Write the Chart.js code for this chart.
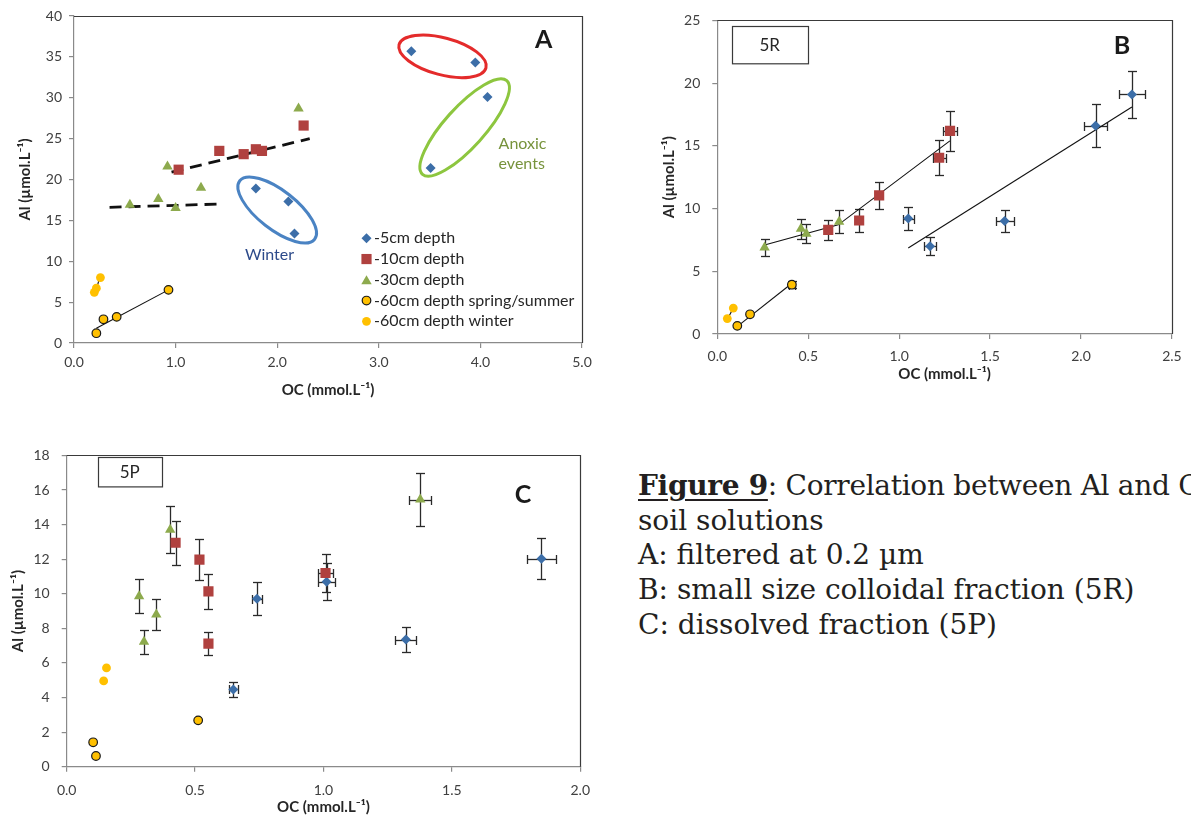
<!DOCTYPE html>
<html><head><meta charset="utf-8">
<script src="https://cdn.jsdelivr.net/npm/chart.js@4.4.1/dist/chart.umd.min.js"></script>
<style>
html,body{margin:0;padding:0;background:#fff;}
body{width:1191px;height:815px;overflow:hidden;position:relative;}
canvas{position:absolute;}
#cap{position:absolute;left:638px;top:469px;font-family:"DejaVu Serif",serif;font-size:28px;line-height:34.7px;color:#231f20;white-space:nowrap;}
#cap b{text-decoration:underline;text-decoration-thickness:2px;text-underline-offset:4px;}
#cap .l1{letter-spacing:-0.3px;}
</style></head><body>
<canvas id="cA" width="600" height="400" style="left:0;top:0"></canvas>
<canvas id="cB" width="551" height="385" style="left:640px;top:0"></canvas>
<canvas id="cC" width="600" height="380" style="left:0;top:435px"></canvas>
<div id="cap">
<div class="l1"><b>Figure 9</b>: Correlation between Al and OC in</div>
<div>soil solutions</div>
<div>A: filtered at 0.2 µm</div>
<div>B: small size colloidal fraction (5R)</div>
<div>C: dissolved fraction (5P)</div>
</div>
<script>
Chart.defaults.font.family = "Lato, 'Open Sans', sans-serif";
Chart.defaults.color = '#404040';

const SERIES = ['-5cm depth', '-10cm depth', '-30cm depth', '-60cm depth spring/summer', '-60cm depth winter'];
const X_TITLE = 'OC (mmol.L\u207B\u00B9)';
const Y_TITLE = 'Al (\u00B5mol.L\u207B\u00B9)';

// ---------- Panel A : filtered at 0.2 µm ----------
const A_XTICKS = [0, 1, 2, 3, 4, 5];
const A_YTICKS = [0, 5, 10, 15, 20, 25, 30, 35, 40];
const A_x5  = [3.32, 3.95, 4.07, 3.51, 1.79, 2.11, 2.17];
const A_y5  = [35.7, 34.3, 30.1, 21.4, 18.9, 17.3, 13.4];
const A_x10 = [1.03, 1.43, 1.67, 1.79, 1.85, 2.26];
const A_y10 = [21.2, 23.5, 23.1, 23.7, 23.5, 26.6];
const A_x30 = [0.92, 2.21, 1.25, 0.83, 0.55, 1.00];
const A_y30 = [21.6, 28.7, 19.0, 17.6, 16.9, 16.5];
const A_x60s = [0.22, 0.29, 0.42, 0.93];
const A_y60s = [1.2, 2.9, 3.2, 6.5];
const A_x60w = [0.20, 0.22, 0.26];
const A_y60w = [6.2, 6.7, 8.0];
const A_trend10_x = [0.96, 2.32],  A_trend10_y = [20.9, 25.0];
const A_trend30_x = [0.35, 1.45],  A_trend30_y = [16.6, 17.0];
const A_trend60s_x = [0.22, 0.93], A_trend60s_y = [1.8, 6.5];
const A_trend60w_x = [0.206, 0.25], A_trend60w_y = [5.9, 7.9];

// ---------- Panel B : 5R ----------
const B_XTICKS = [0, 0.5, 1, 1.5, 2, 2.5];
const B_YTICKS = [0, 5, 10, 15, 20, 25];
const B_x5  = [1.05, 1.17, 1.58, 2.08, 2.28];
const B_y5  = [9.2, 7.0, 9.0, 16.6, 19.1];
const B_ex5 = [0.03, 0.035, 0.05, 0.065, 0.07];
const B_ey5 = [0.9, 0.7, 0.9, 1.7, 1.9];
const B_x10  = [0.61, 0.78, 0.89, 1.22, 1.28];
const B_y10  = [8.3, 9.05, 11.05, 14.05, 16.2];
const B_ex10 = [0, 0, 0, 0.035, 0.037];
const B_ey10 = [0.8, 0.9, 1.1, 1.4, 1.6];
const B_x30  = [0.26, 0.46, 0.49, 0.67];
const B_y30  = [6.9, 8.4, 8.0, 8.95];
const B_ex30 = [0, 0, 0, 0];
const B_ey30 = [0.68, 0.8, 0.78, 0.9];
const B_x60s  = [0.11, 0.18, 0.41];
const B_y60s  = [0.65, 1.57, 3.93];
const B_ex60s = [0, 0, 0.015];
const B_ey60s = [0, 0, 0.28];
const B_x60w = [0.055, 0.088];
const B_y60w = [1.23, 2.07];
const B_trend5_x = [1.05, 2.28],  B_trend5_y = [6.86, 18.1];
const B_trend1030_x = [0.26, 0.665, 1.279], B_trend1030_y = [7.1, 8.7, 15.4];
const B_trend60s_x = [0.107, 0.409], B_trend60s_y = [0.57, 4.03];
const B_trend60w_x = [0.055, 0.085], B_trend60w_y = [1.15, 2.0];

// ---------- Panel C : 5P ----------
const C_XTICKS = [0, 0.5, 1, 1.5, 2];
const C_YTICKS = [0, 2, 4, 6, 8, 10, 12, 14, 16, 18];
const C_x5  = [0.741, 0.649, 1.012, 1.321, 1.849];
const C_y5  = [9.71, 4.47, 10.7, 7.35, 12.03];
const C_ex5 = [0.021, 0.017, 0.032, 0.041, 0.056];
const C_ey5 = [0.96, 0.43, 1.07, 0.73, 1.2];
const C_x10  = [0.424, 0.517, 0.552, 0.552, 1.008];
const C_y10  = [12.95, 11.97, 10.14, 7.12, 11.2];
const C_ex10 = [0, 0, 0, 0, 0.031];
const C_ey10 = [1.27, 1.18, 1.0, 0.67, 1.1];
const C_x30  = [0.282, 0.349, 0.301, 0.403, 1.377];
const C_y30  = [9.86, 8.8, 7.22, 13.7, 15.45];
const C_ex30 = [0, 0, 0, 0, 0.042];
const C_ey30 = [0.97, 0.87, 0.7, 1.35, 1.53];
const C_x60s = [0.103, 0.114, 0.512];
const C_y60s = [1.41, 0.62, 2.68];
const C_x60w = [0.144, 0.155];
const C_y60w = [4.96, 5.71];

// ---------- styles ----------
const STYLES = [
  {ps: 'rectRot',  r: 5,   bg: '#3C6EA8', bc: '#3C6EA8', bw: 0},
  {ps: 'rect',     r: 7.2, bg: '#B0413F', bc: '#B0413F', bw: 0},
  {ps: 'triangle', r: 6,   bg: '#8DAA4D', bc: '#8DAA4D', bw: 0},
  {ps: 'circle',   r: 4.3, bg: '#FFC000', bc: '#1a1a1a', bw: 1.2},
  {ps: 'circle',   r: 4.4, bg: '#FFC000', bc: '#FFC000', bw: 0}
];

function pts(xs, ys) { return xs.map((x, i) => ({x: x, y: ys[i]})); }
function series(k, xs, ys, ex, ey) {
  const s = STYLES[k];
  return {label: SERIES[k], data: pts(xs, ys), pointStyle: s.ps, pointRadius: s.r, pointHoverRadius: s.r,
    backgroundColor: s.bg, borderColor: s.bc, borderWidth: s.bw, showLine: false,
    errX: ex, errY: ey, order: 5 - k, styleIdx: k};
}
function trend(xs, ys, dash) {
  return {label: '', data: pts(xs, ys), showLine: true, pointRadius: 0, pointHoverRadius: 0,
    borderColor: '#111', borderWidth: dash ? 2.8 : 1.1, borderDash: dash || [], borderCapStyle: 'butt',
    fill: false, order: 10};
}

function axis(ticks, dec, o) {
  return {
    type: 'linear', min: ticks[0], max: ticks[ticks.length - 1],
    afterBuildTicks: s => { s.ticks = ticks.map(v => ({value: v})); },
    ticks: {padding: o.pad, font: {size: 14}, color: '#404040', autoSkip: false, maxRotation: 0,
      callback: v => Number(v).toFixed(dec)},
    grid: {display: true, drawOnChartArea: false, drawTicks: true, tickLength: 5,
      tickColor: '#8a8a8a', color: '#8a8a8a', lineWidth: 1.2},
    border: {display: true, color: '#8a8a8a', width: 1.2},
    title: {display: true, text: o.title, font: {size: 15, weight: 'bold', lineHeight: 1}, color: '#262626', padding: o.titlePad},
    afterFit: s => { if (s.isHorizontal()) s.height = o.size; else s.width = o.size; }
  };
}

const errorBars = {
  id: 'errorBars',
  beforeDatasetsDraw(chart) {
    const {ctx} = chart, x = chart.scales.x, y = chart.scales.y;
    ctx.save();
    ctx.strokeStyle = '#2a2a2a'; ctx.lineWidth = 1.3;
    const seg = (a, b, c, d) => { ctx.beginPath(); ctx.moveTo(a, b); ctx.lineTo(c, d); ctx.stroke(); };
    chart.data.datasets.forEach(ds => {
      if (!ds.errX && !ds.errY) return;
      ds.data.forEach((p, i) => {
        const px = Math.round(x.getPixelForValue(p.x)) + 0.5, py = Math.round(y.getPixelForValue(p.y)) + 0.5;
        const ey = ds.errY ? ds.errY[i] : 0, ex = ds.errX ? ds.errX[i] : 0;
        if (ey > 0) {
          const t = Math.round(y.getPixelForValue(p.y + ey)) + 0.5, b = Math.round(y.getPixelForValue(p.y - ey)) + 0.5;
          seg(px, t, px, b); seg(px - 4.5, t, px + 4.5, t); seg(px - 4.5, b, px + 4.5, b);
        }
        if (ex > 0) {
          const l = Math.round(x.getPixelForValue(p.x - ex)) + 0.5, r = Math.round(x.getPixelForValue(p.x + ex)) + 0.5;
          seg(l, py, r, py); seg(l, py - 4.5, l, py + 4.5); seg(r, py - 4.5, r, py + 4.5);
        }
      });
    });
    ctx.restore();
  }
};

const frame = {
  id: 'frame',
  afterDraw(chart) {
    const {ctx, chartArea: a} = chart;
    ctx.save(); ctx.strokeStyle = '#3a3a3a'; ctx.lineWidth = 1.2;
    ctx.beginPath();
    ctx.moveTo(a.left, Math.round(a.top) + 0.5);
    ctx.lineTo(Math.round(a.right) + 0.5, Math.round(a.top) + 0.5);
    ctx.lineTo(Math.round(a.right) + 0.5, a.bottom);
    ctx.stroke(); ctx.restore();
  }
};

function drawMarker(ctx, s, x, y) {
  ctx.save(); ctx.fillStyle = s.bg; ctx.strokeStyle = s.bc; ctx.lineWidth = s.bw;
  ctx.beginPath();
  const r = s.r;
  if (s.ps === 'rectRot') { ctx.moveTo(x - r, y); ctx.lineTo(x, y - r); ctx.lineTo(x + r, y); ctx.lineTo(x, y + r); ctx.closePath(); }
  else if (s.ps === 'rect') { const h = r * Math.SQRT1_2; ctx.rect(x - h, y - h, 2 * h, 2 * h); }
  else if (s.ps === 'triangle') { const yy = y + r / 4; ctx.moveTo(x, yy - r); ctx.lineTo(x + r * 0.866, yy + r / 2); ctx.lineTo(x - r * 0.866, yy + r / 2); ctx.closePath(); }
  else { ctx.arc(x, y, r, 0, Math.PI * 2); }
  ctx.fill(); if (s.bw > 0) ctx.stroke();
  ctx.restore();
}

function decor(letter, lx, lBase, box) {
  return {
    id: 'decor',
    afterDraw(chart) {
      const ctx = chart.ctx;
      ctx.save();
      ctx.fillStyle = '#1a1a1a'; ctx.font = "bold 25px Lato"; ctx.textAlign = 'center'; ctx.textBaseline = 'alphabetic';
      ctx.fillText(letter, lx, lBase);
      if (box) {
        ctx.strokeStyle = '#3a3a3a'; ctx.lineWidth = 1.2;
        ctx.strokeRect(Math.round(box.x) + 0.5, Math.round(box.y) + 0.5, box.w, box.h);
        ctx.font = "17px Lato"; ctx.fillStyle = '#262626'; ctx.textBaseline = 'middle';
        ctx.fillText(box.text, box.x + box.w / 2, box.y + box.h / 2 + 1);
      }
      ctx.restore();
    }
  };
}

// annotations of panel A (ellipse centres in data units)
const A_ELLIPSES = [
  {cx: 3.627, cy: 35.07, a: 45, b: 18.5, rot: 15,  color: '#E42B2B'},
  {cx: 3.845, cy: 26.36, a: 63, b: 20,   rot: -48, color: '#8DC63F'},
  {cx: 2.00,  cy: 16.27, a: 47.5, b: 19.4, rot: 38, color: '#4A83C3'}
];
const A_NOTES = [
  {text: 'Winter', x: 1.924, y: 10.15, align: 'center', color: '#2C4A8A'},
  {text: 'Anoxic', x: 4.179, y: 23.73, align: 'left', color: '#77933C'},
  {text: 'events', x: 4.179, y: 21.28, align: 'left', color: '#77933C'}
];

const annotA = {
  id: 'annotA',
  afterDraw(chart) {
    const {ctx} = chart, x = chart.scales.x, y = chart.scales.y;
    ctx.save();
    A_ELLIPSES.forEach(e => {
      ctx.beginPath(); ctx.strokeStyle = e.color; ctx.lineWidth = 3;
      ctx.ellipse(x.getPixelForValue(e.cx), y.getPixelForValue(e.cy), e.a, e.b, e.rot * Math.PI / 180, 0, Math.PI * 2);
      ctx.stroke();
    });
    ctx.font = "16px Lato"; ctx.textBaseline = 'alphabetic';
    A_NOTES.forEach(n => {
      ctx.fillStyle = n.color; ctx.textAlign = n.align;
      ctx.fillText(n.text, x.getPixelForValue(n.x), y.getPixelForValue(n.y));
    });
    // legend
    ctx.font = "16px Lato"; ctx.fillStyle = '#262626'; ctx.textAlign = 'left'; ctx.textBaseline = 'middle';
    chart.data.datasets.filter(d => d.styleIdx !== undefined).forEach((d, i) => {
      const ly = 238.3 + i * 20.75;
      drawMarker(ctx, STYLES[d.styleIdx], 366.5, ly);
      ctx.fillStyle = '#262626';
      ctx.fillText(d.label, 374, ly);
    });
    ctx.restore();
  }
};

function make(id, datasets, pad, xs, ys, plugins) {
  return new Chart(document.getElementById(id), {
    type: 'scatter',
    data: {datasets: datasets},
    options: {
      responsive: false, animation: false, devicePixelRatio: 1, events: [],
      layout: {padding: pad},
      plugins: {legend: {display: false}, tooltip: {enabled: false}},
      scales: {x: xs, y: ys}
    },
    plugins: [errorBars, frame].concat(plugins)
  });
}

make('cA', [
  series(0, A_x5, A_y5), series(1, A_x10, A_y10), series(2, A_x30, A_y30),
  series(3, A_x60s, A_y60s), series(4, A_x60w, A_y60w),
  trend(A_trend10_x, A_trend10_y, [12, 7]), trend(A_trend30_x, A_trend30_y, [12, 7]),
  trend(A_trend60s_x, A_trend60s_y), trend(A_trend60w_x, A_trend60w_y)
], {left: 0, top: 16, right: 18, bottom: 0},
  axis(A_XTICKS, 1, {pad: 6, title: X_TITLE, titlePad: {top: 0, bottom: 2.5}, size: 57}),
  axis(A_YTICKS, 0, {pad: 7, title: Y_TITLE, titlePad: {top: 17.5, bottom: 0}, size: 74}),
  [annotA, decor('A', 543.8, 48)]);

make('cB', [
  series(0, B_x5, B_y5, B_ex5, B_ey5), series(1, B_x10, B_y10, B_ex10, B_ey10),
  series(2, B_x30, B_y30, B_ex30, B_ey30), series(3, B_x60s, B_y60s, B_ex60s, B_ey60s),
  series(4, B_x60w, B_y60w),
  trend(B_trend5_x, B_trend5_y), trend(B_trend1030_x, B_trend1030_y),
  trend(B_trend60s_x, B_trend60s_y), trend(B_trend60w_x, B_trend60w_y)
], {left: 0, top: 16, right: 19, bottom: 0},
  axis(B_XTICKS, 1, {pad: 9.3, title: X_TITLE, titlePad: {top: 0, bottom: 3.5}, size: 51}),
  axis(B_YTICKS, 0, {pad: 12, title: Y_TITLE, titlePad: {top: 21.5, bottom: 0}, size: 77.3}),
  [decor('B', 482, 54, {x: 91.7, y: 26, w: 76, h: 37.3, text: '5R'})]);

make('cC', [
  series(0, C_x5, C_y5, C_ex5, C_ey5), series(1, C_x10, C_y10, C_ex10, C_ey10),
  series(2, C_x30, C_y30, C_ex30, C_ey30), series(3, C_x60s, C_y60s),
  series(4, C_x60w, C_y60w)
], {left: 0, top: 13.3, right: 17.7, bottom: 0},
  axis(C_XTICKS, 1, {pad: 10, title: X_TITLE, titlePad: {top: 0, bottom: 0.8}, size: 48.3}),
  axis(C_YTICKS, 0, {pad: 12, title: Y_TITLE, titlePad: {top: 10.8, bottom: 0}, size: 66.7}),
  [decor('C', 523, 67.7, {x: 97.7, y: 22.3, w: 64, h: 29.4, text: '5P'})]);
</script>
</body></html>
